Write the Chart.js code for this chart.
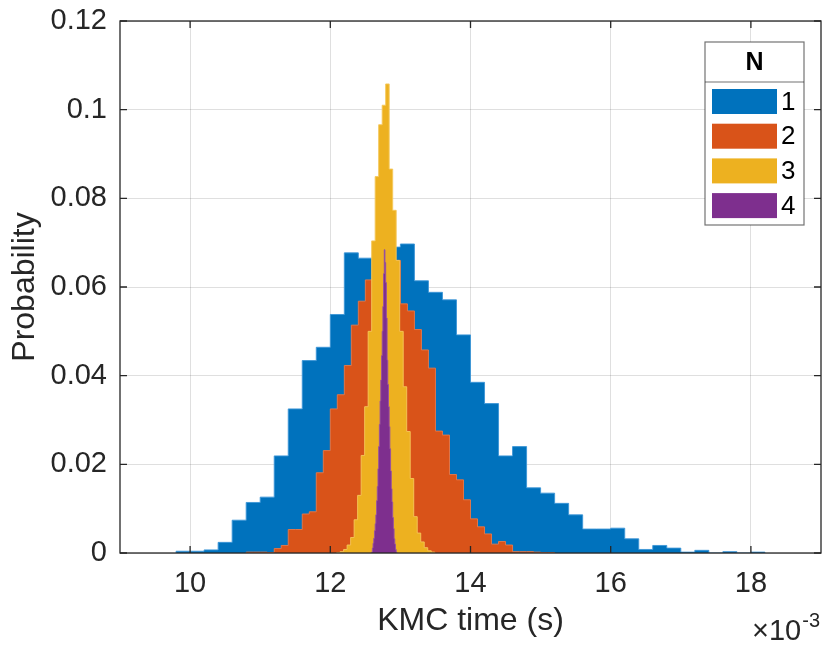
<!DOCTYPE html>
<html>
<head>
<meta charset="utf-8">
<title>KMC time distribution</title>
<script src="https://cdn.jsdelivr.net/npm/chart.js@4.4.1/dist/chart.umd.min.js"></script>
<style>
  html, body { margin: 0; padding: 0; background: #fff; }
  canvas { display: block; }
</style>
</head>
<body>
<canvas id="histChart" width="824" height="646"></canvas>
<script>
// KMC time histograms (x in units of 1e-3 s, y = probability per bin)
const seriesNames = ['1', '2', '3', '4'];

// N = 1
const binStart1 = 9.8, binWidth1 = 0.2;
const prob1 = [0.0004, 0.0004, 0.0007, 0.0024, 0.0074, 0.0114, 0.0126, 0.0219, 0.0325, 0.0434,
               0.0464, 0.0538, 0.0677, 0.0665, 0.0670, 0.0690, 0.0697, 0.0614, 0.0588, 0.0571,
               0.0492, 0.0385, 0.0337, 0.0219, 0.0240, 0.0147, 0.0135, 0.0112, 0.0086, 0.0054,
               0.0054, 0.0056, 0.0032, 0.0008, 0.0017, 0.0011, 0.0002, 0.0006, 0, 0.0003,
               0, 0.0002];

// N = 2
const binStart2 = 10.8, binWidth2 = 0.1;
const prob2 = [0.0002, 0.0002, 0.0002, 0.0001, 0.0010, 0.0017, 0.0053, 0.0053, 0.0088, 0.0093,
               0.0181, 0.0231, 0.0325, 0.0357, 0.0423, 0.0514, 0.0568, 0.0616, 0.0660, 0.0690,
               0.0700, 0.0660, 0.0562, 0.0546, 0.0504, 0.0458, 0.0417, 0.0275, 0.0266, 0.0177,
               0.0165, 0.0120, 0.0077, 0.0059, 0.0043, 0.0020, 0.0026, 0.0018, 0.0003, 0.0003,
               0.0003, 0.0002, 0.0001, 0.0001];

// N = 3
const binStart3 = 12.09, binWidth3 = 0.05;
const prob3 = [0.0001, 0.0003, 0.0008, 0.0018, 0.0035, 0.0075, 0.0130, 0.0220, 0.0330, 0.0500,
               0.0704, 0.0849, 0.0966, 0.1010, 0.1058, 0.0866, 0.0773, 0.0660, 0.0500, 0.0375,
               0.0274, 0.0168, 0.0082, 0.0045, 0.0025, 0.0012, 0.0005, 0.0002];

// N = 4
const binStart4 = 12.59, binWidth4 = 0.01;
const prob4 = [0.0002, 0.0011, 0.0022, 0.0033, 0.0050, 0.0066, 0.0086, 0.0118, 0.0150, 0.0190,
               0.0240, 0.0290, 0.0343, 0.0390, 0.0445, 0.0500, 0.0556, 0.0630, 0.0684, 0.0655,
               0.0610, 0.0530, 0.0435, 0.0380, 0.0330, 0.0285, 0.0235, 0.0185, 0.0145, 0.0115,
               0.0080, 0.0055, 0.0032, 0.0020, 0.0008, 0.0002];

const xTicks = [10, 12, 14, 16, 18];
const yTicks = [0, 0.02, 0.04, 0.06, 0.08, 0.1, 0.12];

const FONT = '"Liberation Sans", Arial, Helvetica, sans-serif';
const INK = '#262626';
const colors = ['#0072BD', '#D95319', '#EDB120', '#7E2F8E'];
const edges = ['rgba(60,150,215,0.9)', 'rgba(235,120,70,0.9)', 'rgba(245,200,90,0.9)', 'rgba(150,80,165,0.9)'];

// outline of a histogram: one point per bin left edge, closed to zero at both ends
function histPoints(start, width, probs) {
    const pts = [{ x: start, y: 0 }];
    probs.forEach((p, i) => pts.push({ x: +(start + i * width).toFixed(4), y: p }));
    pts.push({ x: +(start + probs.length * width).toFixed(4), y: 0 });
    return pts;
}

const hists = [
    histPoints(binStart1, binWidth1, prob1),
    histPoints(binStart2, binWidth2, prob2),
    histPoints(binStart3, binWidth3, prob3),
    histPoints(binStart4, binWidth4, prob4)
];

// box, inward ticks, x exponent and the legend
const frameAndLegend = {
    id: 'frameAndLegend',
    afterDatasetsDraw(chart) {
        const { ctx, chartArea: a, scales: { x, y } } = chart;
        ctx.save();
        ctx.strokeStyle = INK;
        ctx.lineWidth = 1.3;
        ctx.beginPath();
        xTicks.forEach(v => {
            const px = x.getPixelForValue(v);
            ctx.moveTo(px, a.bottom); ctx.lineTo(px, a.bottom - 7);
            ctx.moveTo(px, a.top); ctx.lineTo(px, a.top + 7);
        });
        yTicks.forEach(v => {
            const py = y.getPixelForValue(v);
            ctx.moveTo(a.left, py); ctx.lineTo(a.left + 7, py);
            ctx.moveTo(a.right, py); ctx.lineTo(a.right - 7, py);
        });
        ctx.stroke();
        ctx.strokeRect(a.left, a.top, a.right - a.left, a.bottom - a.top);

        // x10^-3 multiplier under the right end of the x axis
        ctx.fillStyle = INK;
        ctx.textBaseline = 'alphabetic';
        ctx.textAlign = 'left';
        ctx.font = '20px ' + FONT;
        const expW = ctx.measureText('-3').width;
        ctx.font = '29px ' + FONT;
        const baseW = ctx.measureText('\u00d710').width;
        const ex = a.right - 2 - expW - baseW;
        ctx.fillText('\u00d710', ex, 640);
        ctx.font = '20px ' + FONT;
        ctx.fillText('-3', ex + baseW + 1, 627);

        // legend box with title row
        const lx = a.right - 116, ly = a.top + 21, lw = 99, lh = 183;
        ctx.fillStyle = '#fff';
        ctx.fillRect(lx, ly, lw, lh);
        ctx.strokeStyle = 'rgba(38,38,38,0.65)';
        ctx.lineWidth = 1.2;
        ctx.strokeRect(lx, ly, lw, lh);
        ctx.beginPath();
        ctx.moveTo(lx, ly + 40); ctx.lineTo(lx + lw, ly + 40);
        ctx.stroke();

        ctx.fillStyle = '#000';
        ctx.textAlign = 'center';
        ctx.textBaseline = 'middle';
        ctx.font = 'bold 25px ' + FONT;
        ctx.fillText('N', lx + lw / 2, ly + 21);

        ctx.font = '26px ' + FONT;
        ctx.textAlign = 'left';
        seriesNames.forEach((name, i) => {
            const ry = ly + 47 + i * 34.7;
            ctx.fillStyle = colors[i];
            ctx.fillRect(lx + 7, ry, 65, 25);
            ctx.fillStyle = '#000';
            ctx.fillText(name, lx + 76, ry + 13.5);
        });
        ctx.restore();
    }
};

const datasets = hists.map((pts, i) => ({
    label: seriesNames[i],
    data: pts,
    stepped: true,
    fill: 'origin',
    backgroundColor: colors[i],
    borderColor: edges[i],
    borderWidth: 1,
    pointRadius: 0,
    order: 4 - i
}));

new Chart(document.getElementById('histChart').getContext('2d'), {
    type: 'line',
    data: { datasets: datasets },
    options: {
        responsive: false,
        animation: false,
        events: [],
        layout: { padding: { top: 21, right: 3, left: 0, bottom: 0 } },
        plugins: { legend: { display: false }, tooltip: { enabled: false } },
        scales: {
            x: {
                type: 'linear',
                min: 9,
                max: 19,
                afterBuildTicks: s => { s.ticks = xTicks.map(v => ({ value: v })); },
                afterFit: s => { s.height = 93; s.paddingLeft = 0; s.paddingRight = 0; },
                grid: { color: 'rgba(38,38,38,0.15)', lineWidth: 1, drawTicks: false },
                border: { display: false },
                ticks: {
                    color: INK,
                    padding: 14,
                    maxRotation: 0,
                    font: { family: FONT, size: 29 },
                    callback: v => String(v)
                },
                title: {
                    display: true,
                    text: 'KMC time (s)',
                    color: INK,
                    font: { family: FONT, size: 32 },
                    padding: { top: 0, bottom: 6 }
                }
            },
            y: {
                min: 0,
                max: 0.12,
                afterBuildTicks: s => { s.ticks = yTicks.map(v => ({ value: v })); },
                afterFit: s => { s.width = 120; s.paddingTop = 0; s.paddingBottom = 0; },
                grid: { color: 'rgba(38,38,38,0.15)', lineWidth: 1, drawTicks: false },
                border: { display: false },
                ticks: {
                    color: INK,
                    padding: 13,
                    font: { family: FONT, size: 29 },
                    callback: v => String(+v.toFixed(2))
                },
                title: {
                    display: true,
                    text: 'Probability',
                    color: INK,
                    font: { family: FONT, size: 32 },
                    padding: { top: 6, bottom: 0 }
                }
            }
        }
    },
    plugins: [frameAndLegend]
});
</script>
</body>
</html>
